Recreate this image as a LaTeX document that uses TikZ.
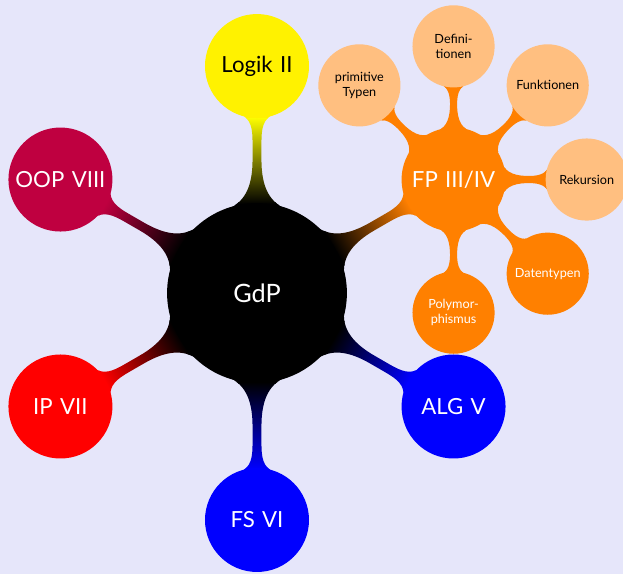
\documentclass[tikz,border=0pt]{standalone}
\usepackage{fontspec}
\setmainfont{Lato}
\usepackage{tikz}
\usetikzlibrary{mindmap,calc}
\usepackage{xcolor}
\definecolor{slidebg}{RGB}{230,230,250}
\pgfdeclarelayer{backdrop}
\pgfdeclarelayer{bars}
\pgfsetlayers{backdrop,bars,main}

\begin{document}
\begin{tikzpicture}[
    gdpcore/.style={circle, fill=black, text=white, inner sep=0pt, outer sep=-0.6pt, minimum size=3.7cm, text width=3cm, align=center, font=\fontsize{14.8}{17}\selectfont},
    topic/.style={circle, fill=#1, text=white, inner sep=0pt, outer sep=-0.6pt, minimum size=2.14cm, text width=1.9cm, align=center, font=\fontsize{13}{15}\selectfont},
    subtopic/.style={circle, fill=#1, text=black, inner sep=0pt, outer sep=-0.6pt, minimum size=1.69cm, text width=1.5cm, align=center, font=\fontsize{7.4}{8.8}\selectfont},
    link/.style 2 args={circle connection bar switch color=from (#1) to (#2)}]
            \useasboundingbox (-5.288,-5.782) rectangle (7.531,6.029);
            \begin{pgfonlayer}{backdrop}
              \fill[slidebg] (-5.288,-5.782) rectangle (7.531,6.029);
            \end{pgfonlayer}

            % Wurzel
            \node[gdpcore] (gdp) at (0,0) {GdP};

            % Vorlesungen
            \node[topic=yellow, text=black] (logik) at (90:4.67) {Logik II};
            \node[topic=orange] (fp) at (30:4.67) {FP III/IV};
            \node[topic=blue] (alg) at (-30:4.67) {ALG V};
            \node[topic=blue] (fs) at (-90:4.67) {FS VI};
            \node[topic=red] (ip) at (-150:4.67) {IP VII};
            \node[topic=purple] (oop) at (150:4.67) {OOP VIII};

            % Themen von FP
            \node[subtopic=orange!50] (primtypen) at ($(fp)+(135:2.74)$) {primitive\\Typen};
            \node[subtopic=orange!50] (defs) at ($(fp)+(90:2.74)$) {Defini-\\tionen};
            \node[subtopic=orange!50] (funk) at ($(fp)+(45:2.74)$) {Funktionen};
            \node[subtopic=orange!50] (rek) at ($(fp)+(0:2.74)$) {Rekursion};
            \node[subtopic=orange, text=white] (datentypen) at ($(fp)+(-45:2.74)$) {Datentypen};
            \node[subtopic=orange, text=white] (poly) at ($(fp)+(-90:2.74)$) {Polymor-\\phismus};

            % Verbindungen
            \begin{pgfonlayer}{bars}
              \path (gdp) to[link={black}{yellow}] (logik);
              \path (gdp) to[link={black}{orange}] (fp);
              \path (gdp) to[link={black}{blue}] (alg);
              \path (gdp) to[link={black}{blue}] (fs);
              \path (gdp) to[link={black}{red}] (ip);
              \path (gdp) to[link={black}{purple}] (oop);
              \foreach \sub in {primtypen,defs,funk,rek,datentypen,poly}
                \path (fp) to[link={orange}{orange}] (\sub);
            \end{pgfonlayer}
        \end{tikzpicture}
\end{document}
